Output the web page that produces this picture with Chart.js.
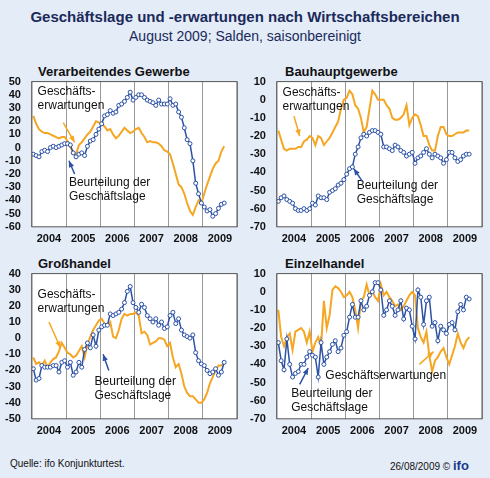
<!DOCTYPE html>
<html><head><meta charset="utf-8">
<script src="https://cdn.jsdelivr.net/npm/chart.js@4/dist/chart.umd.min.js"></script>
<style>
body{margin:0;background:#fff;font-family:"Liberation Sans",Arial,sans-serif}
#wrap{position:relative;width:490px;height:478px;background:#e4ecf8;overflow:hidden}
.t1{position:absolute;left:0;width:490px;top:8px;text-align:center;font-weight:bold;font-size:15px;color:#1a2a5a}
.t2{position:absolute;left:0;width:490px;top:28px;text-align:center;font-size:14px;color:#1a2a5a}
.pt{position:absolute;font-weight:bold;font-size:13px;color:#111}
.box{position:absolute;width:245px;height:180px}
.foot{position:absolute;top:458px;font-size:10px;color:#111}
</style></head><body>
<div id="wrap">
<div class="t1">Geschäftslage und -erwartungen nach Wirtschaftsbereichen</div>
<div class="t2">August 2009; Salden, saisonbereinigt</div>
<div class="pt" style="left:38px;top:64px">Verarbeitendes Gewerbe</div>
<div class="pt" style="left:285px;top:64px">Bauhauptgewerbe</div>
<div class="pt" style="left:38px;top:256px">Großhandel</div>
<div class="pt" style="left:285px;top:256px">Einzelhandel</div>
<div class="box" style="left:0;top:72px"><canvas id="c1"></canvas></div>
<div class="box" style="left:245px;top:72px"><canvas id="c2"></canvas></div>
<div class="box" style="left:0;top:264px"><canvas id="c3"></canvas></div>
<div class="box" style="left:245px;top:264px"><canvas id="c4"></canvas></div>
<div class="foot" style="left:10px">Quelle: ifo Konjunkturtest.</div>
<div class="foot" style="left:390px">26/08/2009 © <b style="font-size:13px;color:#1a3a8a">ifo</b></div>
</div>
<script>
const years = ["2004","2005","2006","2007","2008","2009"];

const vgLage = [-5,-6,-7,-3,-2,-3,0,1,0,1,2,3, 3,2,-4,-7,-5,-4,-6,1,5,6,10,14, 18,24,25,28,26,27,32,33,35,38,42,36, 38,40,40,38,36,35,34,32,36,33,33,33, 37,32,33,27,23,15,6,3,-10,-27,-35,-42, -45,-48,-47,-52,-50,-46,-43,-42];
const vgErw = [24,18,14,12,11,11,10,9,8,7,8,8, 5,0,-3,-5,2,4,7,10,12,16,20,19, 18,16,13,14,10,7,9,12,15,13,11,12, 14,15,11,8,4,5,4,4,3,1,-2,-3, -5,-12,-20,-28,-30,-35,-42,-48,-51,-45,-40,-42, -35,-28,-22,-16,-12,-10,-3,1];
const bauLage = [-56,-54,-53,-55,-56,-57,-60,-61,-61,-60,-61,-60, -57,-58,-53,-54,-54,-55,-51,-50,-49,-47,-46,-44, -41,-38,-37,-30,-26,-21,-19,-20,-18,-17,-17,-18, -19,-26,-26,-27,-28,-25,-26,-28,-29,-31,-30,-29, -35,-32,-31,-29,-27,-30,-32,-30,-31,-32,-35,-33, -29,-29,-32,-34,-33,-31,-30,-30];
const bauErw = [-17,-22,-27,-28,-27,-27,-27,-26,-26,-23,-22,-20, -21,-25,-20,-21,-25,-23,-21,-18,-15,-12,-5,0, 1,5,3,-3,-5,-10,-18,-15,-5,5,3,0, 0,0,-3,-5,-10,-11,-11,-10,-8,-3,-14,-10, -8,-9,-14,-20,-20,-25,-28,-28,-20,-15,-15,-19, -20,-20,-19,-18,-18,-18,-17,-17];
const ghLage = [-19,-26,-25,-17,-18,-18,-18,-17,-17,-21,-15,-14, -18,-15,-23,-21,-15,-18,-7,-3,-6,2,-5,5, 7,8,8,15,14,15,16,18,22,29,32,22, 19,16,21,19,14,12,10,12,8,10,6,7, 14,16,9,12,5,2,1,0,2,-9,-14,-16, -17,-20,-22,-21,-19,-23,-21,-15];
const ghErw = [-12,-16,-15,-17,-14,-18,-15,-13,-12,-8,-3,-6, -9,-10,-12,-11,-8,-5,-12,-4,1,5,8,11, 12,9,8,10,1,0,5,12,15,14,15,15, 16,14,3,4,2,-4,-3,-2,0,0,-1,-5, -3,-12,-18,-16,-22,-30,-34,-36,-36,-38,-40,-40, -38,-34,-28,-24,-20,-17,-17,-16];
const ehLage = [-28,-38,-43,-26,-40,-47,-45,-44,-40,-40,-36,-33, -35,-36,-47,-28,-40,-36,-33,-29,-27,-33,-31,-24, -22,-14,-7,-14,-14,-5,-10,-8,-2,0,5,5, 1,-13,-10,-5,-8,-13,-10,-5,-15,-9,-10,-19, -26,1,-3,-18,-5,-3,-19,-17,-27,-19,-21,-23, -18,-17,-21,-11,-7,-10,-3,-4];
const ehErw = [-10,-25,-30,-25,-23,-32,-22,-21,-20,-22,-28,-22, -33,-28,-25,-30,-5,-20,-13,1,3,2,0,-3, -2,0,-3,-10,-20,-5,-3,4,-2,0,-3,-5, 4,-2,0,-3,-5,-8,-7,-10,-8,-5,-2,0, -2,-20,-25,-28,-22,-35,-44,-38,-36,-33,-31,-36, -40,-35,-30,-23,-28,-31,-27,-25];

const BLUE = "#2c52a6", ORANGE = "#f5a623";
const pts = a => a.map((v, i) => ({x: i + 0.5, y: v}));

const decoPlugin = {
  id: "deco",
  beforeDraw(c) {
    const a = c.chartArea, g = c.ctx;
    g.save(); g.fillStyle = "#fff"; g.fillRect(a.left, a.top, a.width, a.height); g.restore();
  },
  afterDraw(c) {
    const g = c.ctx, x = c.scales.x, y = c.scales.y, n = c.options.plugins.deco;
    g.save();
    g.strokeStyle = "#555"; g.lineWidth = 1;
    g.strokeRect(c.chartArea.left, c.chartArea.top, c.chartArea.width, c.chartArea.height);
    g.font = "12px 'Liberation Sans', Arial"; g.fillStyle = "#111";
    (n.texts || []).forEach(t => t.lines.forEach((l, i) => g.fillText(l, x.getPixelForValue(t.x), y.getPixelForValue(t.y) + i * 14)));
    (n.arrows || []).forEach(r => {
      const x1 = x.getPixelForValue(r[0]), y1 = y.getPixelForValue(r[1]);
      const x2 = x.getPixelForValue(r[2]), y2 = y.getPixelForValue(r[3]);
      g.strokeStyle = r[4]; g.fillStyle = r[4]; g.lineWidth = 1.5;
      g.beginPath(); g.moveTo(x1, y1); g.lineTo(x2, y2); g.stroke();
      const an = Math.atan2(y2 - y1, x2 - x1);
      g.beginPath(); g.moveTo(x2, y2);
      g.lineTo(x2 - 7 * Math.cos(an - 0.4), y2 - 7 * Math.sin(an - 0.4));
      g.lineTo(x2 - 7 * Math.cos(an + 0.4), y2 - 7 * Math.sin(an + 0.4));
      g.closePath(); g.fill();
    });
    g.restore();
  }
};

function panel(id, lage, erw, min, max, deco) {
  new Chart(document.getElementById(id), {
    type: "line",
    data: {datasets: [
      {data: pts(lage), borderColor: BLUE, borderWidth: 1.5, pointRadius: 2, pointBackgroundColor: "#fff", pointBorderColor: BLUE, pointBorderWidth: 1},
      {data: pts(erw), borderColor: ORANGE, borderWidth: 2, pointRadius: 0}
    ]},
    options: {
      animation: false, responsive: false,
      layout: {padding: {top: 6, right: 8, left: 2}},
      plugins: {legend: {display: false}, tooltip: {enabled: false}, deco: deco},
      scales: {
        x: {type: "linear", min: 0, max: 72,
          afterBuildTicks: s => { s.ticks = []; for (let i = 0; i <= 72; i += 6) s.ticks.push({value: i}); },
          ticks: {autoSkip: false, maxRotation: 0, padding: 6, color: "#111", font: {size: 11, weight: "bold", family: "'Liberation Sans', Arial"},
            callback: v => (v % 12 === 6 ? years[(v - 6) / 12] : "")},
          grid: {color: c => (c.tick && c.tick.value % 12 === 0 ? "#999" : "transparent"), drawTicks: false, lineWidth: 1},
          border: {display: false}},
        y: {min: min, max: max,
          afterBuildTicks: s => { s.ticks = []; for (let v = min; v <= max; v += 10) s.ticks.push({value: v}); },
          ticks: {autoSkip: false, color: "#111", padding: 3, font: {size: 11, weight: "bold", family: "'Liberation Sans', Arial"}},
          grid: {display: false}, border: {display: false}}
      }
    },
    plugins: [decoPlugin]
  });
}
for (const id of ["c1","c2","c3","c4"]) { const c = document.getElementById(id); c.width = 245; c.height = 180; }

panel("c1", vgLage, vgErw, -60, 50, {
  texts: [{x: 2, y: 40, lines: ["Geschäfts-", "erwartungen"]}, {x: 13, y: -29, lines: ["Beurteilung der", "Geschäftslage"]}],
  arrows: [[11, 19, 15, 4, ORANGE], [15, -20, 13, -10, BLUE]]});
panel("c2", bauLage, bauErw, -70, 10, {
  texts: [{x: 2, y: 2, lines: ["Geschäfts-", "erwartungen"]}, {x: 28, y: -49, lines: ["Beurteilung der", "Geschäftslage"]}],
  arrows: [[6, -9, 8, -20, ORANGE], [30, -45, 27, -38, BLUE]]});
panel("c3", ghLage, ghErw, -50, 40, {
  texts: [{x: 2, y: 25, lines: ["Geschäfts-", "erwartungen"]}, {x: 22, y: -29, lines: ["Beurteilung der", "Geschäftslage"]}],
  arrows: [[6, 10, 10, -6, ORANGE], [27, -20, 25, -10, BLUE]]});
panel("c4", ehLage, ehErw, -70, 10, {
  texts: [{x: 17, y: -48, lines: ["Geschäftserwartungen"]}, {x: 5, y: -58, lines: ["Beurteilung der", "Geschäftslage"]}],
  arrows: [[50, -40, 55, -33, ORANGE], [8, -51, 11, -42, BLUE]]});
</script>
</body></html>
